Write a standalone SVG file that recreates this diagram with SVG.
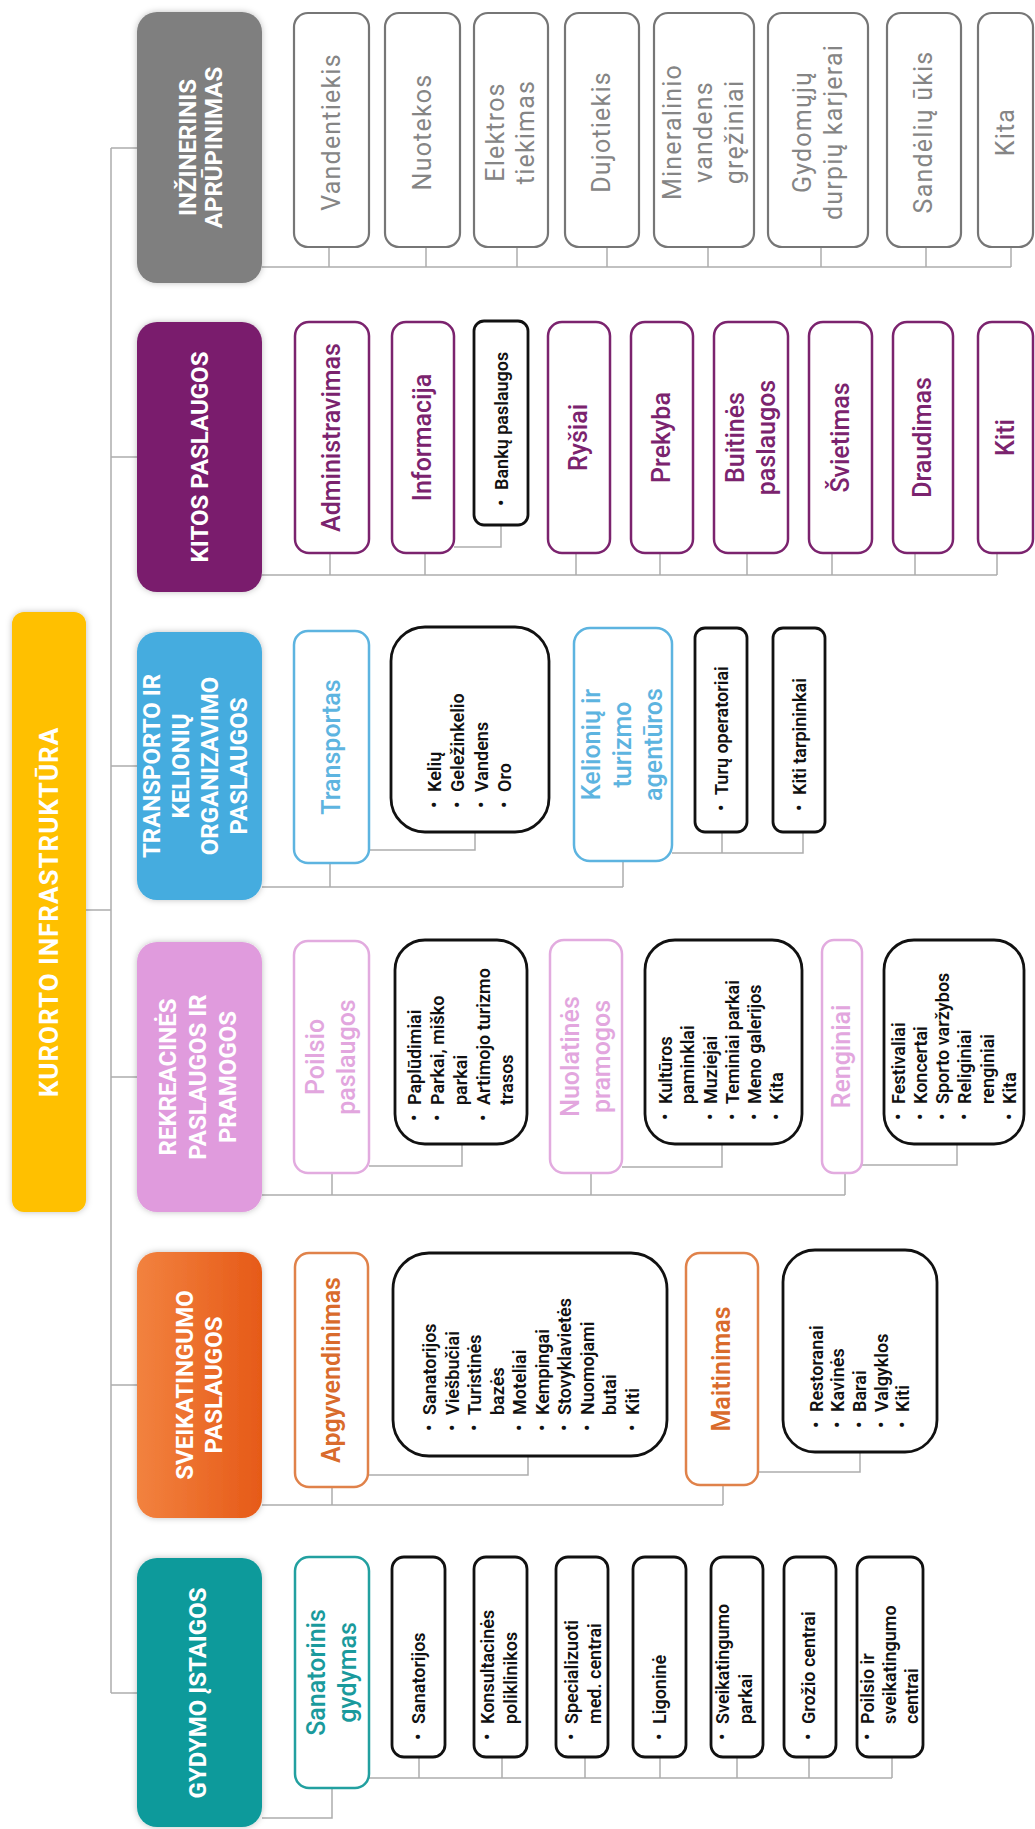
<svg xmlns="http://www.w3.org/2000/svg" width="1035" height="1829" viewBox="0 0 1035 1829">
<defs>
<linearGradient id="orng" x1="0" y1="0" x2="1" y2="0"><stop offset="0" stop-color="#F2823F"/><stop offset="1" stop-color="#E65A18"/></linearGradient>
<filter id="sh" x="-20%" y="-20%" width="140%" height="140%"><feDropShadow dx="0" dy="0" stdDeviation="3" flood-color="#000" flood-opacity="0.25"/></filter>
</defs>
<style>
text{font-family:Roboto,"Liberation Sans",Arial,sans-serif}
.c{stroke:#ADADAD;stroke-width:1.5;fill:none}
.ht{font-weight:700;font-size:24px;fill:#fff;text-anchor:middle}
.lb{font-size:25px;text-anchor:middle}
.g{fill:#fff;stroke:#767676;stroke-width:2.2}
.gt{fill:#858585;letter-spacing:1.2px}
.p{fill:#fff;stroke:#7B236E;stroke-width:2.5}
.pt{fill:#7B236E;font-weight:500}
.b{fill:#fff;stroke:#5DB4E0;stroke-width:2.5}
.bt{fill:#5DB4E0;font-weight:500}
.k{fill:#fff;stroke:#E2ABDF;stroke-width:2.5}
.kt{fill:#E2A6DE;font-weight:500}
.o{fill:#fff;stroke:#E0824A;stroke-width:2.5}
.ot{fill:#D96B2C;font-weight:600}
.t{fill:#fff;stroke:#22A0A0;stroke-width:2.5}
.tt{fill:#1A9A9C;font-weight:500}
.l{fill:#fff;stroke:#111;stroke-width:2.8}
.li{font-size:18px;font-weight:600;fill:#111}
</style>

<g id="connectors" class="c">
<path d="M86 910H111"/>
<path d="M111 148V1693"/>
<path d="M111 148H137M111 457H137M111 766H137M111 1077H137M111 1385H137M111 1693H137"/>
<path d="M262 267H1011M329 247V267M426 247V267M517 247V267M607 247V267M708 247V267M821 247V267M926 247V267M1011 247V267"/>
<path d="M262 575H997M330 553V575M425 553V575M576 553V575M660 553V575M747 553V575M832 553V575M915 553V575M997 553V575M454 547H501V525"/>
<path d="M262 887H623M330 863V887M623 861V887M369 850H475V832M672 853H803V832M722 853V832"/>
<path d="M262 1195H845M332 1173V1195M591 1173V1195M845 1173V1195M369 1166H462V1144M622 1167H722V1144M862 1165H957V1144"/>
<path d="M262 1505H723M332 1487V1505M723 1485V1505M368 1475H528V1456M758 1472H860V1452"/>
<path d="M262 1818H332V1788M369 1778H892M419 1757V1778M502 1757V1778M585 1757V1778M660 1757V1778M737 1757V1778M809 1757V1778M892 1757V1778"/>
</g>

<g id="root">
<rect x="12" y="612" width="74" height="600" rx="12" fill="#FFC000" filter="url(#sh)"/>
<g transform="translate(0,912) rotate(-90)"><text class="ht" x="0" y="58" style="font-size:26px;letter-spacing:1px">KURORTO INFRASTRUKTŪRA</text></g>
</g>

<g id="head-inzinerinis">
<rect x="137" y="12" width="125" height="271" rx="20" fill="#7F7F7F" filter="url(#sh)"/>
<g transform="translate(0,147.5) rotate(-90)"><text class="ht"><tspan x="0" y="195.5">INŽINERINIS</tspan><tspan x="0" y="221.5">APRŪPINIMAS</tspan></text></g>
</g>
<g id="head-kitos">
<rect x="137" y="322" width="125" height="270" rx="20" fill="#7A1F6D" filter="url(#sh)"/>
<g transform="translate(0,457) rotate(-90)"><text class="ht" x="0" y="208">KITOS PASLAUGOS</text></g>
</g>
<g id="head-transporto">
<rect x="137" y="632" width="125" height="268" rx="20" fill="#44ACDF" filter="url(#sh)"/>
<g transform="translate(0,766) rotate(-90)"><text class="ht"><tspan x="0" y="159.5">TRANSPORTO IR</tspan><tspan x="0" y="188.5">KELIONIŲ</tspan><tspan x="0" y="217.5">ORGANIZAVIMO</tspan><tspan x="0" y="246.5">PASLAUGOS</tspan></text></g>
</g>
<g id="head-rekreacines">
<rect x="137" y="942" width="125" height="270" rx="20" fill="#E09BDD" filter="url(#sh)"/>
<g transform="translate(0,1077) rotate(-90)"><text class="ht"><tspan x="0" y="175.5">REKREACINĖS</tspan><tspan x="0" y="205.5">PASLAUGOS IR</tspan><tspan x="0" y="235.5">PRAMOGOS</tspan></text></g>
</g>
<g id="head-sveikatingumo">
<rect x="137" y="1252" width="125" height="266" rx="20" fill="url(#orng)" filter="url(#sh)"/>
<g transform="translate(0,1385) rotate(-90)"><text class="ht"><tspan x="0" y="192.5">SVEIKATINGUMO</tspan><tspan x="0" y="221.5">PASLAUGOS</tspan></text></g>
</g>
<g id="head-gydymo">
<rect x="137" y="1558" width="125" height="269" rx="20" fill="#0D9A9B" filter="url(#sh)"/>
<g transform="translate(0,1693) rotate(-90)"><text class="ht" x="0" y="205.5">GYDYMO ĮSTAIGOS</text></g>
</g>

<!-- INŽINERINIS children -->
<g id="n-vandentiekis"><rect class="g" x="294" y="13" width="75" height="234" rx="14"/><g transform="translate(0,132) rotate(-90)"><text class="lb gt" x="0" y="339.5">Vandentiekis</text></g></g>
<g id="n-nuotekos"><rect class="g" x="385" y="13" width="75" height="234" rx="14"/><g transform="translate(0,132) rotate(-90)"><text class="lb gt" x="0" y="430.5">Nuotekos</text></g></g>
<g id="n-elektros"><rect class="g" x="474" y="13" width="74" height="234" rx="14"/><g transform="translate(0,132) rotate(-90)"><text class="lb gt"><tspan x="0" y="504">Elektros</tspan><tspan x="0" y="534">tiekimas</tspan></text></g></g>
<g id="n-dujotiekis"><rect class="g" x="565" y="13" width="74" height="234" rx="14"/><g transform="translate(0,132) rotate(-90)"><text class="lb gt" x="0" y="610">Dujotiekis</text></g></g>
<g id="n-mineralinio"><rect class="g" x="654" y="13" width="100" height="234" rx="14"/><g transform="translate(0,132) rotate(-90)"><text class="lb gt"><tspan x="0" y="681">Mineralinio</tspan><tspan x="0" y="712">vandens</tspan><tspan x="0" y="743">gręžiniai</tspan></text></g></g>
<g id="n-gydomuju"><rect class="g" x="768" y="13" width="100" height="234" rx="14"/><g transform="translate(0,132) rotate(-90)"><text class="lb gt"><tspan x="0" y="810.5">Gydomųjų</tspan><tspan x="0" y="841.5">durpių karjerai</tspan></text></g></g>
<g id="n-sandeliu"><rect class="g" x="887" y="13" width="74" height="234" rx="14"/><g transform="translate(0,132) rotate(-90)"><text class="lb gt" x="0" y="932">Sandėlių ūkis</text></g></g>
<g id="n-kita-inz"><rect class="g" x="978" y="13" width="55" height="234" rx="14"/><g transform="translate(0,132) rotate(-90)"><text class="lb gt" x="0" y="1013.5">Kita</text></g></g>

<!-- KITOS children -->
<g id="n-administravimas"><rect class="p" x="295" y="322" width="74" height="231" rx="14"/><g transform="translate(0,437.5) rotate(-90)"><text class="lb pt" x="0" y="340">Administravimas</text></g></g>
<g id="n-informacija"><rect class="p" x="392" y="322" width="62" height="231" rx="14"/><g transform="translate(0,437.5) rotate(-90)"><text class="lb pt" x="0" y="431">Informacija</text></g></g>
<g id="n-banku"><rect class="l" x="474" y="321" width="54" height="204" rx="10"/><g class="li" transform="translate(0,506) rotate(-90)"><text x="0" y="508">•</text><text x="16" y="508">Bankų paslaugos</text></g></g>
<g id="n-rysiai"><rect class="p" x="548" y="322" width="62" height="231" rx="14"/><g transform="translate(0,437.5) rotate(-90)"><text class="lb pt" x="0" y="587">Ryšiai</text></g></g>
<g id="n-prekyba"><rect class="p" x="631" y="322" width="62" height="231" rx="14"/><g transform="translate(0,437.5) rotate(-90)"><text class="lb pt" x="0" y="670">Prekyba</text></g></g>
<g id="n-buitines"><rect class="p" x="714" y="322" width="74" height="231" rx="14"/><g transform="translate(0,437.5) rotate(-90)"><text class="lb pt"><tspan x="0" y="743.5">Buitinės</tspan><tspan x="0" y="774.5">paslaugos</tspan></text></g></g>
<g id="n-svietimas"><rect class="p" x="809" y="322" width="63" height="231" rx="14"/><g transform="translate(0,437.5) rotate(-90)"><text class="lb pt" x="0" y="848.5">Švietimas</text></g></g>
<g id="n-draudimas"><rect class="p" x="893" y="322" width="60" height="231" rx="14"/><g transform="translate(0,437.5) rotate(-90)"><text class="lb pt" x="0" y="931">Draudimas</text></g></g>
<g id="n-kiti-kitos"><rect class="p" x="978" y="322" width="55" height="231" rx="14"/><g transform="translate(0,437.5) rotate(-90)"><text class="lb pt" x="0" y="1013.5">Kiti</text></g></g>

<!-- TRANSPORTO children -->
<g id="n-transportas"><rect class="b" x="294" y="631" width="75" height="232" rx="14"/><g transform="translate(0,747) rotate(-90)"><text class="lb bt" x="0" y="339.5">Transportas</text></g></g>
<g id="n-transporto-list"><rect class="l" x="391" y="627" width="158" height="205" rx="34"/><g class="li" transform="translate(0,808) rotate(-90)">
<text x="0" y="441">•</text><text x="16" y="441">Kelių</text>
<text x="0" y="464">•</text><text x="16" y="464">Geležinkelio</text>
<text x="0" y="488">•</text><text x="16" y="488">Vandens</text>
<text x="0" y="511">•</text><text x="16" y="511">Oro</text></g></g>
<g id="n-kelioniu"><rect class="b" x="574" y="628" width="98" height="233" rx="16"/><g transform="translate(0,744.5) rotate(-90)"><text class="lb bt"><tspan x="0" y="600">Kelionių ir</tspan><tspan x="0" y="631">turizmo</tspan><tspan x="0" y="662">agentūros</tspan></text></g></g>
<g id="n-turu"><rect class="l" x="695" y="628" width="52" height="204" rx="10"/><g class="li" transform="translate(0,811) rotate(-90)"><text x="0" y="728">•</text><text x="16" y="728">Turų operatoriai</text></g></g>
<g id="n-tarpininkai"><rect class="l" x="773" y="628" width="52" height="204" rx="10"/><g class="li" transform="translate(0,811) rotate(-90)"><text x="0" y="806">•</text><text x="16" y="806">Kiti tarpininkai</text></g></g>

<!-- REKREACINĖS children -->
<g id="n-poilsio"><rect class="k" x="294" y="941" width="75" height="232" rx="14"/><g transform="translate(0,1057) rotate(-90)"><text class="lb kt"><tspan x="0" y="324">Poilsio</tspan><tspan x="0" y="355">paslaugos</tspan></text></g></g>
<g id="n-poilsio-list"><rect class="l" x="395" y="940" width="132" height="204" rx="30"/><g class="li" transform="translate(0,1121) rotate(-90)">
<text x="0" y="421">•</text><text x="16" y="421">Paplūdimiai</text>
<text x="0" y="444">•</text><text x="16" y="444">Parkai, miško</text>
<text x="16" y="467">parkai</text>
<text x="0" y="490">•</text><text x="16" y="490">Artimojo turizmo</text>
<text x="16" y="513">trasos</text></g></g>
<g id="n-nuolatines"><rect class="k" x="550" y="940" width="72" height="233" rx="14"/><g transform="translate(0,1056.5) rotate(-90)"><text class="lb kt"><tspan x="0" y="578.5">Nuolatinės</tspan><tspan x="0" y="609.5">pramogos</tspan></text></g></g>
<g id="n-nuolatines-list"><rect class="l" x="645" y="940" width="157" height="204" rx="30"/><g class="li" transform="translate(0,1120) rotate(-90)">
<text x="0" y="672">•</text><text x="16" y="672">Kultūros</text>
<text x="16" y="694">paminklai</text>
<text x="0" y="717">•</text><text x="16" y="717">Muziejai</text>
<text x="0" y="739">•</text><text x="16" y="739">Teminiai parkai</text>
<text x="0" y="761">•</text><text x="16" y="761">Meno galerijos</text>
<text x="0" y="783">•</text><text x="16" y="783">Kita</text></g></g>
<g id="n-renginiai"><rect class="k" x="822" y="940" width="40" height="233" rx="12"/><g transform="translate(0,1056.5) rotate(-90)"><text class="lb kt" x="0" y="850">Renginiai</text></g></g>
<g id="n-renginiai-list"><rect class="l" x="884" y="940" width="140" height="204" rx="30"/><g class="li" transform="translate(0,1120) rotate(-90)">
<text x="0" y="905">•</text><text x="16" y="905">Festivaliai</text>
<text x="0" y="927">•</text><text x="16" y="927">Koncertai</text>
<text x="0" y="949">•</text><text x="16" y="949">Sporto varžybos</text>
<text x="0" y="971">•</text><text x="16" y="971">Religiniai</text>
<text x="16" y="994">renginiai</text>
<text x="0" y="1016">•</text><text x="16" y="1016">Kita</text></g></g>

<!-- SVEIKATINGUMO children -->
<g id="n-apgyvendinimas"><rect class="o" x="295" y="1253" width="73" height="234" rx="14"/><g transform="translate(0,1370) rotate(-90)"><text class="lb ot" x="0" y="339.5">Apgyvendinimas</text></g></g>
<g id="n-apgyvendinimas-list"><rect class="l" x="393" y="1253" width="274" height="203" rx="36"/><g class="li" transform="translate(0,1431) rotate(-90)">
<text x="0" y="436">•</text><text x="16" y="436">Sanatorijos</text>
<text x="0" y="458.5">•</text><text x="16" y="458.5">Viešbučiai</text>
<text x="0" y="481">•</text><text x="16" y="481">Turistinės</text>
<text x="16" y="503.5">bazės</text>
<text x="0" y="526">•</text><text x="16" y="526">Moteliai</text>
<text x="0" y="548.5">•</text><text x="16" y="548.5">Kempingai</text>
<text x="0" y="571">•</text><text x="16" y="571">Stovyklavietės</text>
<text x="0" y="593.5">•</text><text x="16" y="593.5">Nuomojami</text>
<text x="16" y="616">butai</text>
<text x="0" y="638.5">•</text><text x="16" y="638.5">Kiti</text></g></g>
<g id="n-maitinimas"><rect class="o" x="686" y="1253" width="72" height="232" rx="14"/><g transform="translate(0,1369) rotate(-90)"><text class="lb ot" x="0" y="730">Maitinimas</text></g></g>
<g id="n-maitinimas-list"><rect class="l" x="783" y="1250" width="154" height="202" rx="32"/><g class="li" transform="translate(0,1428) rotate(-90)">
<text x="0" y="823">•</text><text x="16" y="823">Restoranai</text>
<text x="0" y="844">•</text><text x="16" y="844">Kavinės</text>
<text x="0" y="866">•</text><text x="16" y="866">Barai</text>
<text x="0" y="888">•</text><text x="16" y="888">Valgyklos</text>
<text x="0" y="909">•</text><text x="16" y="909">Kiti</text></g></g>

<!-- GYDYMO children -->
<g id="n-sanatorinis"><rect class="t" x="295" y="1557" width="74" height="231" rx="14"/><g transform="translate(0,1672.5) rotate(-90)"><text class="lb tt"><tspan x="0" y="324.5">Sanatorinis</tspan><tspan x="0" y="355.5">gydymas</tspan></text></g></g>
<g id="n-sanatorijos"><rect class="l" x="392" y="1557" width="53" height="200" rx="12"/><g class="li" transform="translate(0,1740) rotate(-90)"><text x="0" y="425">•</text><text x="16" y="425">Sanatorijos</text></g></g>
<g id="n-konsultacines"><rect class="l" x="474" y="1557" width="53" height="200" rx="12"/><g class="li" transform="translate(0,1740) rotate(-90)"><text x="0" y="494">•</text><text x="16" y="494">Konsultacinės</text><text x="16" y="517">poliklinikos</text></g></g>
<g id="n-specializuoti"><rect class="l" x="556" y="1557" width="52" height="200" rx="12"/><g class="li" transform="translate(0,1740) rotate(-90)"><text x="0" y="578">•</text><text x="16" y="578">Specializuoti</text><text x="16" y="601">med. centrai</text></g></g>
<g id="n-ligonine"><rect class="l" x="633" y="1557" width="53" height="200" rx="12"/><g class="li" transform="translate(0,1740) rotate(-90)"><text x="0" y="666">•</text><text x="16" y="666">Ligoninė</text></g></g>
<g id="n-sveikatingumo-parkai"><rect class="l" x="711" y="1557" width="52" height="200" rx="12"/><g class="li" transform="translate(0,1740) rotate(-90)"><text x="0" y="729">•</text><text x="16" y="729">Sveikatingumo</text><text x="16" y="752">parkai</text></g></g>
<g id="n-grozio"><rect class="l" x="784" y="1557" width="52" height="200" rx="12"/><g class="li" transform="translate(0,1740) rotate(-90)"><text x="0" y="815">•</text><text x="16" y="815">Grožio centrai</text></g></g>
<g id="n-poilsio-centrai"><rect class="l" x="857" y="1557" width="66" height="200" rx="12"/><g class="li" transform="translate(0,1740) rotate(-90)"><text x="0" y="874">•</text><text x="16" y="874">Poilsio ir</text><text x="16" y="896">sveikatingumo</text><text x="16" y="918">centrai</text></g></g>
</svg>
